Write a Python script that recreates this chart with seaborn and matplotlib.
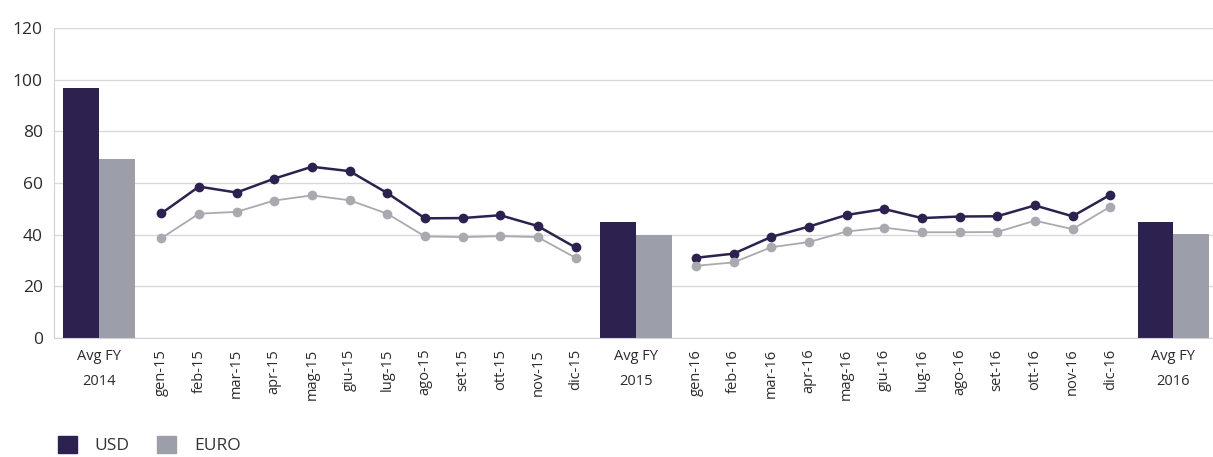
import numpy as np
import pandas as pd
import seaborn as sns
import matplotlib.pyplot as plt
from matplotlib.patches import Patch

# dati
mesi_15 = ["gen-15", "feb-15", "mar-15", "apr-15", "mag-15", "giu-15",
           "lug-15", "ago-15", "set-15", "ott-15", "nov-15", "dic-15"]
mesi_16 = ["gen-16", "feb-16", "mar-16", "apr-16", "mag-16", "giu-16",
           "lug-16", "ago-16", "set-16", "ott-16", "nov-16", "dic-16"]
avg_labels = ["Avg FY\n2014", "Avg FY\n2015", "Avg FY\n2016"]

usd_avg = [97.0, 44.8, 44.7]
euro_avg = [69.3, 39.8, 40.3]

usd_15 = [48.2, 58.6, 56.3, 61.7, 66.3, 64.6, 56.1, 46.3, 46.4, 47.5, 43.3, 35.0]
euro_15 = [38.6, 48.1, 48.8, 53.2, 55.2, 53.3, 48.1, 39.3, 39.0, 39.4, 39.0, 31.0]
usd_16 = [31.0, 32.6, 39.1, 43.1, 47.6, 49.9, 46.4, 47.0, 47.1, 51.3, 47.1, 55.4]
euro_16 = [27.9, 29.2, 35.1, 37.1, 41.2, 42.7, 40.9, 40.9, 41.0, 45.4, 42.1, 50.8]

col_usd = "#2d2150"
col_euro = "#9c9eaa"
col_euro_line = "#a9a9b0"

sns.set_style("white")
plt.rcParams["font.family"] = ["Open Sans", "DejaVu Sans"]

# posizioni sull'asse x
gap = 1.6
pos_15 = 1.65 + np.arange(12)
avg_15 = pos_15[-1] + gap
pos_16 = avg_15 + gap + np.arange(12)
avg_16 = pos_16[-1] + 1.68
pos_avg = np.array([0.0, avg_15, avg_16])

linee = pd.DataFrame({
    "pos": np.concatenate([pos_15, pos_16, pos_15, pos_16]),
    "valore": usd_15 + usd_16 + euro_15 + euro_16,
    "valuta": ["USD"] * 24 + ["EURO"] * 24,
    "anno": ([2015] * 12 + [2016] * 12) * 2,
})
barre = pd.DataFrame({
    "pos": np.concatenate([pos_avg, pos_avg]),
    "valore": usd_avg + euro_avg,
    "valuta": ["USD"] * 3 + ["EURO"] * 3,
})

fig = plt.figure(figsize=(12.13, 4.57), dpi=100)
ax = fig.add_axes([54 / 1213, 1 - 337.7 / 457, 1 - 54 / 1213, (337.7 - 28.3) / 457])

larghezza = 1.9 / np.diff(pos_avg).min()
sns.barplot(data=barre, x="pos", y="valore", hue="valuta", native_scale=True,
            palette={"USD": col_usd, "EURO": col_euro}, width=larghezza,
            saturation=1, errorbar=None, legend=False, linewidth=0, ax=ax)

sns.lineplot(data=linee, x="pos", y="valore", hue="valuta", units="anno",
             estimator=None, size="valuta", sizes={"USD": 1.8, "EURO": 1.3},
             palette={"USD": col_usd, "EURO": col_euro_line},
             marker="o", markersize=7, markeredgewidth=0, legend=False, ax=ax)

ax.set_xlim(-1.2, avg_16 + 1.05)
ax.set_ylim(0, 120)
ax.set_yticks(range(0, 121, 20))
ax.yaxis.grid(True, color="#d9d9d9", lw=1)
ax.set_axisbelow(True)

tick_pos = np.concatenate([[0.0], pos_15, [avg_15], pos_16, [avg_16]])
tick_lab = [avg_labels[0]] + mesi_15 + [avg_labels[1]] + mesi_16 + [avg_labels[2]]
ax.set_xticks(tick_pos)
ax.set_xticklabels(tick_lab)
for lbl in ax.get_xticklabels():
    if lbl.get_text().startswith("Avg"):
        lbl.set_rotation(0)
        lbl.set_fontsize(11.5)
        lbl.set_linespacing(1.9)
    else:
        lbl.set_rotation(90)
    lbl.set_ha("center")
    lbl.set_va("top")

separatori = np.concatenate([pos_15 - 0.5, [pos_15[-1] + 0.5], pos_16 - 0.5, [pos_16[-1] + 0.5]])
ax.set_xticks(separatori, minor=True)
ax.tick_params(axis="x", which="major", length=0, pad=8, labelsize=10.5, colors="#2b2b2b")
ax.tick_params(axis="x", which="minor", length=46, color="#d3d3d3", width=1)
ax.tick_params(axis="y", length=6, color="#d3d3d3", labelsize=12.5, pad=2, colors="#2b2b2b")
ax.tick_params(axis="y", color="#d3d3d3")

for s in ["top", "right"]:
    ax.spines[s].set_visible(False)
ax.spines["left"].set_color("#d3d3d3")
ax.spines["bottom"].set_color("#d3d3d3")
ax.set_xlabel("")
ax.set_ylabel("")

fig.legend(handles=[Patch(color=col_usd), Patch(color=col_euro)], labels=["USD", "EURO"],
           loc="center left", bbox_to_anchor=(0.035, 0.026), ncol=2, frameon=False,
           handlelength=1.1, handleheight=1.1, handletextpad=1.0, columnspacing=1.6,
           fontsize=12.5, labelcolor="#333333")

fig.savefig("out.png", dpi=100)
